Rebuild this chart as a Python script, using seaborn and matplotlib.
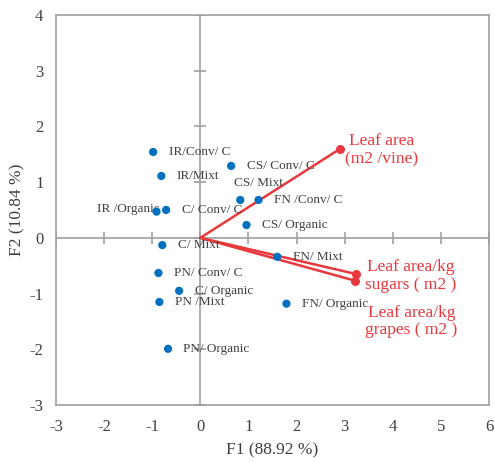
import numpy as np
import pandas as pd
import matplotlib
matplotlib.use("Agg")
import matplotlib.pyplot as plt
import seaborn as sns

# observations (PCA scores)
obs_labels = ["IR/Conv/ C", "IR/Mixt", "IR /Organic", "C/ Conv/ C", "C/ Mixt",
              "CS/ Conv/ C", "CS/ Mixt", "FN /Conv/ C", "CS/ Organic", "FN/ Mixt",
              "PN/ Conv/ C", "C/ Organic", "PN /Mixt", "FN/ Organic", "PN/ Organic"]
f1 = [-0.98, -0.81, -0.91, -0.71, -0.79, 0.64, 0.83, 1.21, 0.96, 1.60,
      -0.87, -0.44, -0.85, 1.79, -0.67]
f2 = [1.54, 1.11, 0.47, 0.50, -0.13, 1.29, 0.68, 0.68, 0.23, -0.34,
      -0.63, -0.95, -1.15, -1.18, -1.99]

# variables (loadings)
var_labels = ["Leaf area\n(m2 /vine)", "Leaf area/kg\nsugars ( m2 )", "Leaf area/kg\ngrapes ( m2 )"]
var_f1 = [2.91, 3.24, 3.22]
var_f2 = [1.60, -0.65, -0.77]

sns.set_style("white")
plt.rcParams["font.family"] = ["Liberation Serif", "DejaVu Serif"]
plt.rcParams["axes.unicode_minus"] = False

df = pd.DataFrame({"F1": f1, "F2": f2, "label": obs_labels})

fig = plt.figure(figsize=(4.95, 4.63), dpi=100)
ax = fig.add_axes([0.113, 0.125, 0.875, 0.843])

grey = "#a0a0a0"
red = "#e8383d"
blue = "#0070c0"
txt = "#404040"

ax.axhline(0, color=grey, lw=1.2, zorder=1)
ax.axvline(0, color=grey, lw=1.2, zorder=1)
# tick marks crossing the zero lines
ax.plot(np.arange(-3, 7), np.zeros(10), ls="none", marker="|", ms=9, mew=1.2, color=grey, zorder=1)
ax.plot(np.zeros(8), np.arange(-3, 5), ls="none", marker="_", ms=9, mew=1.2, color=grey, zorder=1)

for vx, vy in zip(var_f1, var_f2):
    ax.plot([0, vx], [0, vy], color=red, lw=1.8, zorder=2)
ax.scatter(var_f1, var_f2, color=red, s=30, zorder=3)
var_pos = [(3.76, 1.57), (4.37, -0.68), (4.39, -1.50)]
for (tx, ty), lab in zip(var_pos, var_labels):
    ax.text(tx, ty, lab, color=red, fontsize=12.5, ha="center", va="center", linespacing=1.15)

sns.scatterplot(data=df, x="F1", y="F2", color=blue, s=35, edgecolor="none", ax=ax, zorder=4)
for x, y, lab in zip(f1, f2, obs_labels):
    if lab == "IR /Organic":
        ax.text(x + 0.07, y + 0.05, lab, fontsize=9.5, color=txt, ha="right", va="center")
    elif lab == "CS/ Mixt":
        ax.text(x - 0.12, y + 0.3, lab, fontsize=9.5, color=txt, ha="left", va="center")
    else:
        ax.text(x + 0.32, y, lab, fontsize=9.5, color=txt, ha="left", va="center")

ax.set_xlim(-3, 6)
ax.set_ylim(-3, 4)
ax.set_xticks(range(-3, 7))
ax.set_yticks(range(-3, 5))
ax.tick_params(length=0, labelsize=12, colors=txt)
ax.tick_params(axis="x", pad=10)
ax.tick_params(axis="y", pad=9)
for s in ax.spines.values():
    s.set_color(grey)
    s.set_linewidth(1.2)
ax.set_xlabel("F1 (88.92 %)", fontsize=12.5, color=txt, labelpad=5)
ax.set_ylabel("F2 (10.84 %)", fontsize=12.5, color=txt, labelpad=3)

fig.savefig("out.png", dpi=100)
